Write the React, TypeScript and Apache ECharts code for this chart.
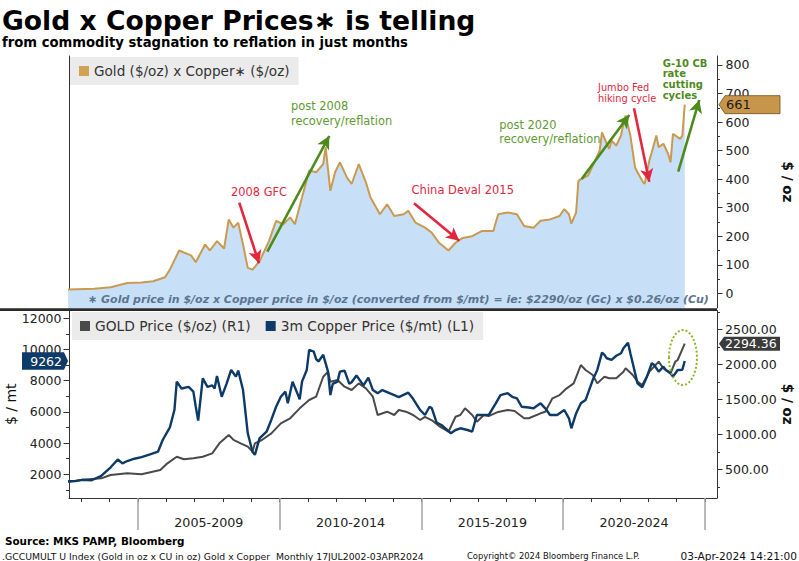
import React, { useEffect, useRef } from "react";
import * as echarts from "echarts";

const FONT = '"DejaVu Sans", Verdana, sans-serif';
const YEAR_MS = 365.25 * 86400000;

// ---------- data ----------
const productDates = ["2002-07","2003-06","2004-01","2004-08","2005-02","2005-07","2005-12","2006-02","2006-06","2006-08","2006-11","2007-01","2007-05","2007-07","2007-10","2008-01","2008-03","2008-05","2008-07","2008-09","2008-11","2009-01","2009-04","2009-08","2009-11","2010-02","2010-05","2010-07","2010-10","2011-01","2011-04","2011-07","2011-08","2011-10","2011-12","2012-02","2012-05","2012-07","2012-10","2013-01","2013-03","2013-07","2013-10","2014-01","2014-05","2014-07","2014-10","2015-02","2015-05","2015-08","2015-12","2016-03","2016-06","2016-10","2017-02","2017-07","2017-09","2018-01","2018-05","2018-08","2018-12","2019-03","2019-07","2019-11","2020-01","2020-03","2020-04","2020-06","2020-07","2020-08","2020-11","2021-02","2021-04","2021-05","2021-07","2021-08","2021-09","2021-11","2022-01","2022-02","2022-03","2022-05","2022-07","2022-08","2022-10","2022-11","2023-01","2023-02","2023-04","2023-05","2023-07","2023-09","2023-10","2023-11","2024-02","2024-03","2024-04"];
const productValues = [13,16,21,36,38,42,56,83,150,143,133,109,171,150,183,157,259,230,247,171,89,83,112,183,254,242,266,242,336,430,424,453,512,359,424,459,406,383,453,389,336,277,312,271,277,289,248,230,212,177,150,177,194,200,218,218,277,283,277,236,230,254,259,271,295,277,244,283,394,400,412,465,500,564,524,506,535,518,553,594,623,553,441,424,394,383,465,494,553,512,524,488,459,559,541,553,661];

const goldDates = ["2002-07","2003-01","2003-09","2004-01","2004-08","2005-02","2005-10","2006-01","2006-05","2006-08","2006-12","2007-04","2007-08","2007-11","2008-03","2008-05","2008-08","2008-11","2009-01","2009-02","2009-05","2009-09","2010-01","2010-05","2010-09","2011-01","2011-04","2011-07","2011-09","2011-10","2012-01","2012-04","2012-07","2012-10","2013-01","2013-04","2013-06","2013-10","2014-01","2014-03","2014-06","2014-09","2014-12","2015-02","2015-05","2015-08","2015-12","2016-03","2016-05","2016-07","2016-10","2016-12","2017-03","2017-05","2017-09","2018-01","2018-04","2018-08","2018-10","2019-03","2019-05","2019-08","2019-11","2020-02","2020-05","2020-08","2020-10","2021-01","2021-03","2021-06","2021-08","2021-11","2022-02","2022-03","2022-06","2022-08","2022-10","2023-01","2023-03","2023-05","2023-07","2023-10","2023-12","2024-01","2024-04"];
const goldValues = [320,350,371,419,443,430,490,585,680,643,657,680,728,871,990,920,871,824,752,871,919,1014,1157,1229,1371,1490,1538,1823,1894,1752,1776,1680,1633,1728,1657,1537,1276,1323,1276,1347,1323,1276,1204,1250,1200,1118,1037,1251,1276,1371,1276,1180,1276,1260,1320,1347,1333,1229,1229,1300,1323,1514,1561,1657,1728,1990,1919,1847,1728,1823,1800,1800,1895,1943,1847,1752,1705,1895,1966,2038,1943,1870,2038,2062,2294.36];

const copperDates = ["2002-07","2002-10","2003-01","2003-05","2003-09","2004-01","2004-04","2004-06","2004-08","2004-11","2005-02","2005-06","2005-09","2005-11","2006-01","2006-02","2006-04","2006-05","2006-07","2006-10","2006-12","2007-01","2007-02","2007-04","2007-06","2007-08","2007-09","2007-10","2007-12","2008-02","2008-04","2008-06","2008-07","2008-09","2008-11","2009-01","2009-02","2009-04","2009-07","2009-09","2009-11","2010-01","2010-03","2010-04","2010-06","2010-08","2010-09","2010-10","2010-12","2011-01","2011-03","2011-04","2011-05","2011-07","2011-09","2011-10","2011-11","2012-01","2012-02","2012-04","2012-06","2012-07","2012-09","2012-12","2013-02","2013-04","2013-06","2013-08","2013-11","2014-01","2014-03","2014-07","2014-09","2014-12","2015-02","2015-04","2015-05","2015-07","2015-09","2016-01","2016-03","2016-05","2016-08","2016-10","2016-12","2017-03","2017-05","2017-08","2017-10","2018-01","2018-03","2018-05","2018-07","2018-10","2018-12","2019-03","2019-05","2019-07","2019-10","2020-01","2020-03","2020-04","2020-06","2020-08","2020-10","2021-01","2021-03","2021-05","2021-06","2021-07","2021-09","2021-11","2022-01","2022-02","2022-04","2022-05","2022-06","2022-08","2022-10","2022-12","2023-02","2023-03","2023-05","2023-07","2023-08","2023-10","2023-11","2024-01","2024-02","2024-03","2024-04"];
const copperValues = [1550,1560,1640,1620,1900,2450,2950,2700,2850,3000,3100,3300,3450,4200,4730,5000,6120,7940,7500,7600,7300,6330,5440,8150,7600,7700,7500,8300,6970,7800,8690,8260,8650,7400,4630,3450,3250,4300,4730,5500,6330,6970,7300,6550,7940,7200,6800,7940,8690,9970,9870,9380,9230,9660,8580,7080,7800,7940,8580,8640,7800,7900,8330,7700,8200,7400,7200,7400,7200,7080,6950,7230,6840,6120,5800,6330,6230,5310,5160,4630,4840,4950,4840,4730,5800,5800,5800,6550,7080,7200,6970,6870,6330,6280,6230,6550,6230,5800,5800,6120,5590,4950,5900,6550,6760,8040,8690,9800,9660,9440,9340,9600,9760,10080,10440,9760,9120,7830,7580,8260,9120,9020,8580,8900,8690,8480,8260,8690,8690,8700,9262];

// ---------- axis ticks / labels ----------
const productTicks = [0, 100, 200, 300, 400, 500, 600, 700, 800];
const productMinorTicks = [50, 150, 250, 350, 450, 550, 650, 750];
const copperTicks = [2000, 4000, 6000, 8000, 10000, 12000];
const copperMinorTicks = [1000, 3000, 5000, 7000, 9000, 11000];
const goldTicks = [500, 1000, 1500, 2000, 2500];
const goldMinorTicks = [250, 750, 1250, 1750, 2250, 2750];
const yearTicks = [2003,2004,2005,2006,2007,2008,2009,2010,2011,2012,2013,2014,2015,2016,2017,2018,2019,2020,2021,2022,2023,2024,2025];
const periodStarts = [2005, 2010, 2015, 2020, 2025];
const periodLabels = ["2005-2009", "2010-2014", "2015-2019", "2020-2024"];

// ---------- annotations (data coordinates: year, Gold x Copper value) ----------
const RED = "#e3263e";
const GREEN_ARROW = "#4c8a1c";
const GREEN_TEXT = "#5f9a33";
const GREEN_BOLD = "#4f8a1e";
const arrowFrom = [[2008.573, 317.5], [2009.561, 145.8], [2014.735, 315.3], [2020.651, 400.5], [2022.496, 648.2], [2024.058, 426.1]];
const arrowTo = [[2009.268, 105.1], [2011.748, 551.2], [2016.333, 184.3], [2022.33, 624.7], [2023.036, 391], [2024.799, 677.3]];
const arrowColors = [RED, GREEN_ARROW, RED, GREEN_ARROW, RED, GREEN_ARROW];
const notes = [
  { text: "2008 GFC", year: 2009.268, value: 356, align: "center", color: RED, size: 11.4, weight: "normal", lh: 14 },
  { text: "post 2008\nrecovery/reflation", year: 2010.397, value: 630.5, align: "left", color: GREEN_TEXT, size: 11.4, weight: "normal", lh: 14.7 },
  { text: "China Deval 2015", year: 2016.458, value: 362, align: "center", color: RED, size: 11.5, weight: "normal", lh: 14 },
  { text: "post 2020\nrecovery/reflation", year: 2017.744, value: 565.2, align: "left", color: GREEN_TEXT, size: 11.4, weight: "normal", lh: 14 },
  { text: "Jumbo Fed\nhiking cycle", year: 2021.226, value: 702.5, align: "left", color: RED, size: 9.8, weight: "normal", lh: 11 },
  { text: "G-10 CB\nrate\ncutting\ncycles", year: 2023.508, value: 750.2, align: "left", color: GREEN_BOLD, size: 10, weight: "bold", lh: 10.6 },
];
const circleAt = { year: 2024.224, value: 2097 };

const PRODUCT_NAME = "Gold ($/oz) x Copper\u2217 ($/oz)";
const GOLD_NAME = "GOLD Price ($/oz) (R1)";
const COPPER_NAME = "3m Copper Price ($/mt) (L1)";

const yr = (y: number) => {
  const f = Math.floor(y);
  return Date.UTC(f, 0, 1) + (y - f) * YEAR_MS;
};
const tm = (s: string) => Date.UTC(+s.slice(0, 4), +s.slice(5, 7) - 1, 15);
const zip = (d: string[], v: number[]) => d.map((s, i) => [tm(s), v[i]]);

const X_MIN = yr(2002.566);
const X_MAX = yr(2025.423);
const LEFT = 69;
const RIGHT_X = 717;

const tickStyle = { lineStyle: { color: "#333", width: 1 } };
const labelFont = { fontFamily: FONT, fontSize: 12.5, color: "#222" };

function valueAxis(grid: number, pos: string, min: number, max: number, ticks: number[], fmt: (v: number) => string, margin: number, extra: any = {}) {
  return {
    type: "value", gridIndex: grid, position: pos, min, max, offset: 0,
    axisLine: { show: true, lineStyle: { color: "#333", width: 1 } },
    axisTick: { show: true, customValues: ticks, length: 5.5, ...tickStyle },
    axisLabel: { show: true, customValues: ticks, formatter: fmt, margin, ...labelFont },
    splitLine: { show: false },
    nameMoveOverlap: false,
    ...extra,
  };
}
function minorAxis(grid: number, pos: string, min: number, max: number, ticks: number[]) {
  return {
    type: "value", gridIndex: grid, position: pos, min, max, offset: 0,
    axisLine: { show: false },
    axisTick: { show: true, customValues: ticks, length: 3, ...tickStyle },
    axisLabel: { show: false },
    splitLine: { show: false },
  };
}

export default function App() {
  const ref = useRef<HTMLDivElement>(null);
  useEffect(() => {
    const el = ref.current!;
    const chart = echarts.init(el, undefined, { renderer: "svg" });
    const P_MIN = -51.5, P_MAX = 831.5;
    const C_MIN = 481, C_MAX = 12500;
    const G_MIN = 90, G_MAX = 2769;

    chart.setOption({
      animation: false,
      backgroundColor: "#ffffff",
      grid: [
        { left: LEFT, top: 56, width: RIGHT_X - LEFT, height: 252, outerBoundsMode: "none" },
        { left: LEFT, top: 310.5, width: RIGHT_X - LEFT, height: 187.5, outerBoundsMode: "none" },
      ],
      legend: [
        {
          data: [PRODUCT_NAME], left: 70, top: 57, padding: [7, 9, 7, 9], backgroundColor: "#ebebeb",
          itemWidth: 10, itemHeight: 10, icon: "rect", selectedMode: false,
          textStyle: { fontFamily: FONT, fontSize: 13.6, color: "#333" },
        },
        {
          data: [GOLD_NAME, COPPER_NAME], left: 72, top: 312, padding: [7, 9, 7, 8], backgroundColor: "#ebebeb",
          itemWidth: 10, itemHeight: 10, icon: "rect", itemGap: 15, selectedMode: false,
          textStyle: { fontFamily: FONT, fontSize: 13.8, color: "#333" },
        },
      ],
      xAxis: [
        { type: "value", gridIndex: 0, min: X_MIN, max: X_MAX, show: false },
        {
          type: "value", gridIndex: 1, min: X_MIN, max: X_MAX, position: "bottom", offset: 0,
          axisLine: { show: true, lineStyle: { color: "#333", width: 1 } },
          axisTick: { show: true, customValues: yearTicks.map((y) => Date.UTC(y, 0, 1)), length: 4, ...tickStyle },
          axisLabel: { show: false },
          splitLine: { show: false },
        },
        {
          type: "value", gridIndex: 1, min: X_MIN, max: X_MAX, position: "bottom", offset: 0,
          axisLine: { show: false },
          axisTick: { show: true, customValues: periodStarts.map((y) => Date.UTC(y, 0, 1)), length: 32, lineStyle: { color: "#a3a3a3", width: 1.5 } },
          axisLabel: {
            show: true,
            customValues: periodLabels.map((_, i) => yr(periodStarts[i] + 2.5)),
            formatter: (v: number) => {
              const y = new Date(v).getUTCFullYear() - 2;
              const i = periodStarts.indexOf(y);
              return i >= 0 ? periodLabels[i] : "";
            },
            margin: 18, fontFamily: FONT, fontSize: 12.7, color: "#222",
          },
          splitLine: { show: false },
        },
      ],
      yAxis: [
        valueAxis(0, "right", P_MIN, P_MAX, productTicks, (v) => String(v), 8.5, {
          name: "$ / oz", nameLocation: "middle", nameGap: 64, nameRotate: -90,
          nameTextStyle: { fontFamily: FONT, fontSize: 13.5, fontWeight: "bold", color: "#111" },
        }),
        minorAxis(0, "right", P_MIN, P_MAX, productMinorTicks),
        {
          type: "value", gridIndex: 0, position: "left", min: P_MIN, max: P_MAX,
          axisLine: { show: true, lineStyle: { color: "#333", width: 1 } },
          axisTick: { show: false }, axisLabel: { show: false }, splitLine: { show: false },
        },
        valueAxis(1, "left", C_MIN, C_MAX, copperTicks, (v) => String(v), 7.5, {
          name: "$ / mt", nameLocation: "middle", nameGap: 51, nameRotate: 90,
          nameTextStyle: { fontFamily: FONT, fontSize: 14, color: "#111" },
        }),
        minorAxis(1, "left", C_MIN, C_MAX, copperMinorTicks),
        valueAxis(1, "right", G_MIN, G_MAX, goldTicks, (v) => v.toFixed(2), 8, {
          name: "$ / oz", nameLocation: "middle", nameGap: 64, nameRotate: -90,
          nameTextStyle: { fontFamily: FONT, fontSize: 13.5, fontWeight: "bold", color: "#111" },
        }),
        minorAxis(1, "right", G_MIN, G_MAX, goldMinorTicks),
      ],
      series: [
        {
          name: PRODUCT_NAME, type: "line", xAxisIndex: 0, yAxisIndex: 0,
          data: zip(productDates, productValues), symbol: "none", z: 3,
          itemStyle: { color: "#d2a155" },
          lineStyle: { color: "#c99a50", width: 2 },
          areaStyle: { color: "#c7e0f8", opacity: 1, origin: "start" },
          markLine: {
            silent: true, symbol: ["none", "arrow"], symbolSize: [10, 13],
            label: { show: false },
            data: arrowFrom.map((a, i) => [
              { coord: [yr(a[0]), a[1]], lineStyle: { color: arrowColors[i], width: 2.6, type: "solid" } },
              { coord: [yr(arrowTo[i][0]), arrowTo[i][1]], lineStyle: { color: arrowColors[i], width: 2.6, type: "solid" } },
            ]),
          },
        },
        {
          name: GOLD_NAME, type: "line", xAxisIndex: 1, yAxisIndex: 5,
          data: zip(goldDates, goldValues), symbol: "none", z: 3,
          itemStyle: { color: "#4a4a4a" }, lineStyle: { color: "#4a4a4a", width: 2 },
        },
        {
          name: COPPER_NAME, type: "line", xAxisIndex: 1, yAxisIndex: 3,
          data: zip(copperDates, copperValues), symbol: "none", z: 4,
          itemStyle: { color: "#0d3a66" }, lineStyle: { color: "#0d3a66", width: 2.4 },
        },
      ],
    });

    const px = (xi: number, year: number) => chart.convertToPixel({ xAxisIndex: xi } as any, yr(year)) as number;
    const py = (yi: number, v: number) => chart.convertToPixel({ yAxisIndex: yi } as any, v) as number;

    const lastP = productValues[productValues.length - 1];
    const lastG = goldValues[goldValues.length - 1];
    const lastC = copperValues[copperValues.length - 1];
    const yP = py(0, lastP);
    const yG = py(5, lastG);
    const yC = py(3, lastC);

    const graphics: any[] = [
      { type: "text", x: 2, y: 20.5, z: 100, style: { text: "Gold x Copper Prices\u2217 is telling", fontFamily: FONT, fontSize: 26.6, fontWeight: "bold", fill: "#000", verticalAlign: "middle" } },
      { type: "text", x: 2, y: 42.5, z: 100, style: { text: "from commodity stagnation to reflation in just months", fontFamily: FONT, fontSize: 13.2, fontWeight: "bold", fill: "#000", verticalAlign: "middle" } },
      { type: "line", z: 100, shape: { x1: 0, y1: 309.6, x2: RIGHT_X, y2: 309.6 }, style: { stroke: "#2a2a2a", lineWidth: 2.8 } },
      { type: "text", x: 88, y: 299, z: 100, style: { text: "\u2217 Gold price in $/oz x Copper price in $/oz (converted from $/mt) = ie: $2290/oz (Gc) x $0.26/oz (Cu)", fontFamily: FONT, fontSize: 11, fontWeight: "bold", fontStyle: "italic", fill: "#5d7490", verticalAlign: "middle" } },
      { type: "text", x: 5, y: 541, z: 100, style: { text: "Source: MKS PAMP, Bloomberg", fontFamily: FONT, fontSize: 10.4, fontWeight: "bold", fill: "#000", verticalAlign: "middle" } },
      { type: "text", x: 2, y: 556, z: 100, style: { text: ".GCCUMULT U Index (Gold in oz x CU in oz) Gold x Copper  Monthly 17JUL2002-03APR2024", fontFamily: FONT, fontSize: 9.3, fill: "#111", verticalAlign: "middle" } },
      { type: "text", x: 467, y: 556, z: 100, style: { text: "Copyright\u00a9 2024 Bloomberg Finance L.P.", fontFamily: FONT, fontSize: 8.4, fill: "#111", verticalAlign: "middle" } },
      { type: "text", x: 797, y: 556, z: 100, style: { text: "03-Apr-2024 14:21:00", fontFamily: FONT, fontSize: 10.6, fill: "#111", align: "right", verticalAlign: "middle" } },
      { type: "polygon", z: 100, shape: { points: [[RIGHT_X + 2, yP], [RIGHT_X + 8, yP - 9], [780, yP - 9], [780, yP + 9], [RIGHT_X + 8, yP + 9]] }, style: { fill: "#c8964b", stroke: "#6b4c1e", lineWidth: 0.8 } },
      { type: "text", x: 726, y: yP, z: 101, style: { text: String(Math.round(lastP)), fontFamily: FONT, fontSize: 13, fill: "#1a1a1a", verticalAlign: "middle" } },
      { type: "polygon", z: 100, shape: { points: [[RIGHT_X + 2, yG], [RIGHT_X + 7, yG - 7], [780, yG - 7], [780, yG + 7], [RIGHT_X + 7, yG + 7]] }, style: { fill: "#3b3b3b" } },
      { type: "text", x: 725, y: yG, z: 101, style: { text: lastG.toFixed(2), fontFamily: FONT, fontSize: 12.5, fill: "#fff", verticalAlign: "middle" } },
      { type: "polygon", z: 100, shape: { points: [[22, yC - 8.8], [64, yC - 8.8], [LEFT - 1, yC], [64, yC + 8.8], [22, yC + 8.8]] }, style: { fill: "#0d3a66" } },
      { type: "text", x: 62, y: yC, z: 101, style: { text: String(lastC), fontFamily: FONT, fontSize: 12.5, fill: "#fff", align: "right", verticalAlign: "middle" } },
      { type: "ellipse", z: 100, shape: { cx: px(1, circleAt.year), cy: py(5, circleAt.value), rx: 14, ry: 27.5 }, style: { fill: "none", stroke: "#8db52f", lineWidth: 2, lineDash: [2, 2] } },
    ];
    notes.forEach((n) => {
      graphics.push({
        type: "text", z: 100, x: px(0, n.year), y: py(0, n.value),
        style: { text: n.text, fontFamily: FONT, fontSize: n.size, fontWeight: n.weight, fill: n.color, align: n.align, verticalAlign: "middle", lineHeight: n.lh },
      });
    });
    chart.setOption({ graphic: graphics });

    return () => chart.dispose();
  }, []);
  return <div ref={ref} style={{ position: "fixed", left: 0, top: 0, width: 799, height: 561, background: "#fff" }} />;
}
